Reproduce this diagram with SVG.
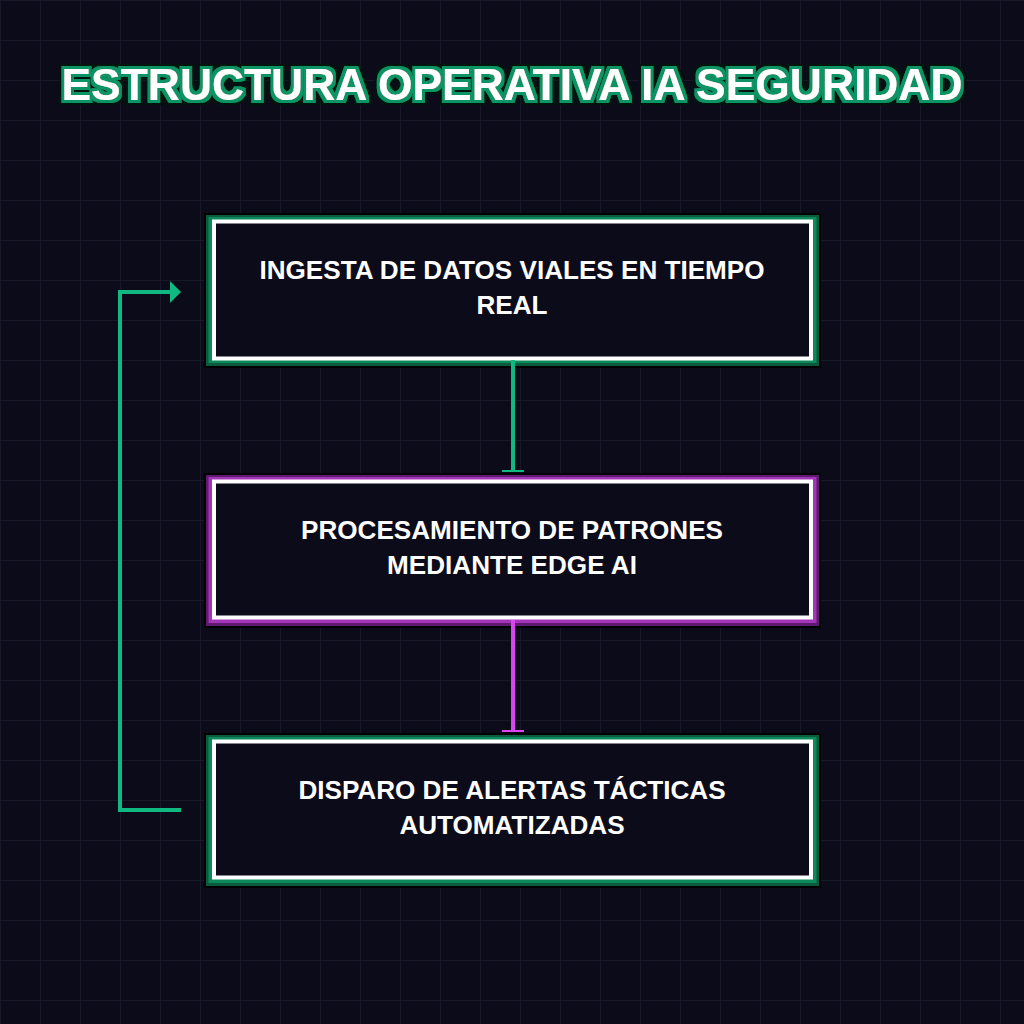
<svg xmlns="http://www.w3.org/2000/svg" width="1024" height="1024" viewBox="0 0 1024 1024">
  <defs>
    <pattern id="grid" width="40" height="40" patternUnits="userSpaceOnUse">
      <path d="M40 0 H0 V40" fill="none" stroke="#1b1b2e" stroke-width="1.5"/>
    </pattern>
    <filter id="titleGlow" x="-5%" y="-40%" width="110%" height="180%">
      <feMorphology in="SourceAlpha" operator="dilate" radius="4.5" result="d2"/>
      <feFlood flood-color="#03160e"/>
      <feComposite in2="d2" operator="in" result="outer"/>
      <feMorphology in="SourceAlpha" operator="dilate" radius="2.5" result="d1"/>
      <feFlood flood-color="#0f9466"/>
      <feComposite in2="d1" operator="in" result="inner"/>
      <feMerge>
        <feMergeNode in="outer"/>
        <feMergeNode in="inner"/>
        <feMergeNode in="SourceGraphic"/>
      </feMerge>
    </filter>
    <marker id="teeG" viewBox="0 0 4 22" refX="2" refY="11" markerWidth="4" markerHeight="22" markerUnits="userSpaceOnUse" orient="auto">
      <rect x="1" y="0" width="2" height="22" fill="#10b981"/>
    </marker>
    <marker id="teeM" viewBox="0 0 4 22" refX="2" refY="11" markerWidth="4" markerHeight="22" markerUnits="userSpaceOnUse" orient="auto">
      <rect x="1" y="0" width="2" height="22" fill="#d946ef"/>
    </marker>
    <marker id="arrowG" viewBox="0 0 11 22" refX="1" refY="11" markerWidth="11" markerHeight="22" markerUnits="userSpaceOnUse" orient="auto">
      <path d="M0 0 L11 11 L0 22 Z" fill="#10b981"/>
    </marker>
  </defs>
  <style>
    .title { font-family: "Liberation Sans", Arial, sans-serif; font-weight: bold; font-size: 44.4px; fill: #ffffff; text-anchor: middle; }
    .label { font-family: "Liberation Sans", Arial, sans-serif; font-weight: bold; font-size: 26.1px; fill: #ffffff; text-anchor: middle; }
    .shadow { fill: #000000; }
    .box { fill: #0b0b1a; stroke: #ffffff; stroke-width: 4; }
    .g-dark { fill: #0a5a3d; }
    .g-band { fill: #0d8a5c; }
    .m-dark { fill: #5e1a70; }
    .m-band { fill: #a235b8; }
    .conn { fill: none; stroke-width: 4; }
  </style>
  <rect width="1024" height="1024" fill="#0b0b1a"/>
  <rect width="1024" height="1024" fill="url(#grid)"/>

  <g id="title" filter="url(#titleGlow)">
    <text class="title" x="512" y="100">ESTRUCTURA OPERATIVA IA SEGURIDAD</text>
  </g>

  <g id="node-ingesta">
    <rect class="shadow" x="204" y="213" width="617" height="155"/>
    <rect class="g-dark" x="206" y="215" width="613" height="151"/>
    <rect class="g-band" x="208.5" y="217" width="608" height="146"/>
    <rect class="box" x="214" y="221.5" width="597" height="137"/>
    <text class="label" x="512" y="279">INGESTA DE DATOS VIALES EN TIEMPO</text>
    <text class="label" x="512" y="314">REAL</text>
  </g>

  <g id="node-procesamiento">
    <rect class="shadow" x="204" y="473" width="617" height="155"/>
    <rect class="m-dark" x="206" y="475" width="613" height="151"/>
    <rect class="m-band" x="208.5" y="477" width="608" height="146"/>
    <rect class="box" x="214" y="481.5" width="597" height="136"/>
    <text class="label" x="512" y="539">PROCESAMIENTO DE PATRONES</text>
    <text class="label" x="512" y="574">MEDIANTE EDGE AI</text>
  </g>

  <g id="node-disparo">
    <rect class="shadow" x="204" y="733" width="617" height="155"/>
    <rect class="g-dark" x="206" y="735" width="613" height="151"/>
    <rect class="g-band" x="208.5" y="737" width="608" height="146"/>
    <rect class="box" x="214" y="741.5" width="597" height="136"/>
    <text class="label" x="512" y="799">DISPARO DE ALERTAS TÁCTICAS</text>
    <text class="label" x="512" y="834">AUTOMATIZADAS</text>
  </g>

  <g id="connectors">
    <path class="conn" d="M513 360 V471" stroke="#10b981" marker-end="url(#teeG)"/>
    <path class="conn" d="M513 620 V731" stroke="#d946ef" marker-end="url(#teeM)"/>
    <path class="conn" d="M181 810 H120 V292 H171" stroke="#10b981" marker-end="url(#arrowG)"/>
  </g>
</svg>
